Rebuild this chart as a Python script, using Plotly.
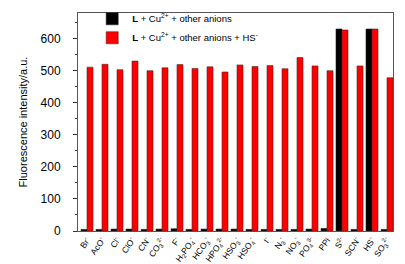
import plotly.graph_objects as go

categories = ["Br<sup>-</sup>", "AcO<sup>-</sup>", "Cl<sup>-</sup>", "ClO<sup>-</sup>", "CN<sup>-</sup>",
              "CO<sub>3</sub><sup>2-</sup>", "F<sup>-</sup>", "H<sub>2</sub>PO<sub>4</sub><sup>-</sup>",
              "HCO<sub>3</sub><sup>-</sup>", "HPO<sub>4</sub><sup>2-</sup>", "HSO<sub>3</sub><sup>-</sup>",
              "HSO<sub>4</sub><sup>-</sup>", "I<sup>-</sup>", "N<sub>3</sub><sup>-</sup>",
              "NO<sub>3</sub><sup>-</sup>", "PO<sub>4</sub><sup>3-</sup>", "PPi", "S<sup>2-</sup>",
              "SCN<sup>-</sup>", "HS<sup>-</sup>", "SO<sub>3</sub><sup>2-</sup>"]
black_vals = [5, 5, 6, 6, 5, 6, 7, 5, 6, 6, 6, 5, 5, 5, 5, 6, 8, 630, 5, 630, 5]
red_vals = [511, 520, 503, 530, 500, 509, 519, 507, 512, 496, 518, 513, 516, 506, 541, 515, 500, 627, 515, 630, 478]

x = list(range(len(categories)))

fig = go.Figure()
fig.add_trace(go.Bar(x=x, y=black_vals, name="<b>L</b> + Cu<sup>2+</sup> + other anions",
                     marker=dict(color="black", line=dict(color="#222", width=0.6))))
fig.add_trace(go.Bar(x=x, y=red_vals, name="<b>L</b> + Cu<sup>2+</sup> + other anions + HS<sup>-</sup>",
                     marker=dict(color="#ff0000", line=dict(color="#552222", width=0.6))))

fig.update_layout(
    width=405, height=264,
    margin=dict(l=70, r=20, t=5, b=41, autoexpand=False),
    barmode="group", bargap=0.2, bargroupgap=0,
    plot_bgcolor="white", paper_bgcolor="white",
    font=dict(family="Liberation Sans, Arial, sans-serif", color="black"),
    legend=dict(x=0.045, y=1.04, xanchor="left", yanchor="top", font=dict(size=9.5),
                bgcolor="rgba(0,0,0,0)", tracegroupgap=0, itemwidth=30),
    showlegend=True,
)
fig.update_xaxes(
    range=[-0.6, 20.4], tickmode="array", tickvals=x, ticktext=categories,
    tickangle=-55, tickfont=dict(size=8.5, family="Liberation Sans Narrow, Arial Narrow, sans-serif"),
    showline=True, linecolor="#555", mirror=True,
    ticks="", showgrid=False, zeroline=False, automargin=False,
)
fig.update_yaxes(
    range=[0, 680], tickvals=[0, 100, 200, 300, 400, 500, 600],
    tickfont=dict(size=12, family="Liberation Sans Narrow, Arial Narrow, sans-serif"),
    ticks="outside", ticklen=4, tickcolor="#333", showline=True, linecolor="#555", mirror=True,
    showgrid=False, zeroline=False, ticklabelstandoff=10,
    minor=dict(tickvals=[50, 150, 250, 350, 450, 550, 650], ticks="outside", ticklen=2, tickcolor="#333"),
    title=dict(text="Fluorescence intensity/a.u.", font=dict(size=11), standoff=10),
)

fig.write_html("out.html")
